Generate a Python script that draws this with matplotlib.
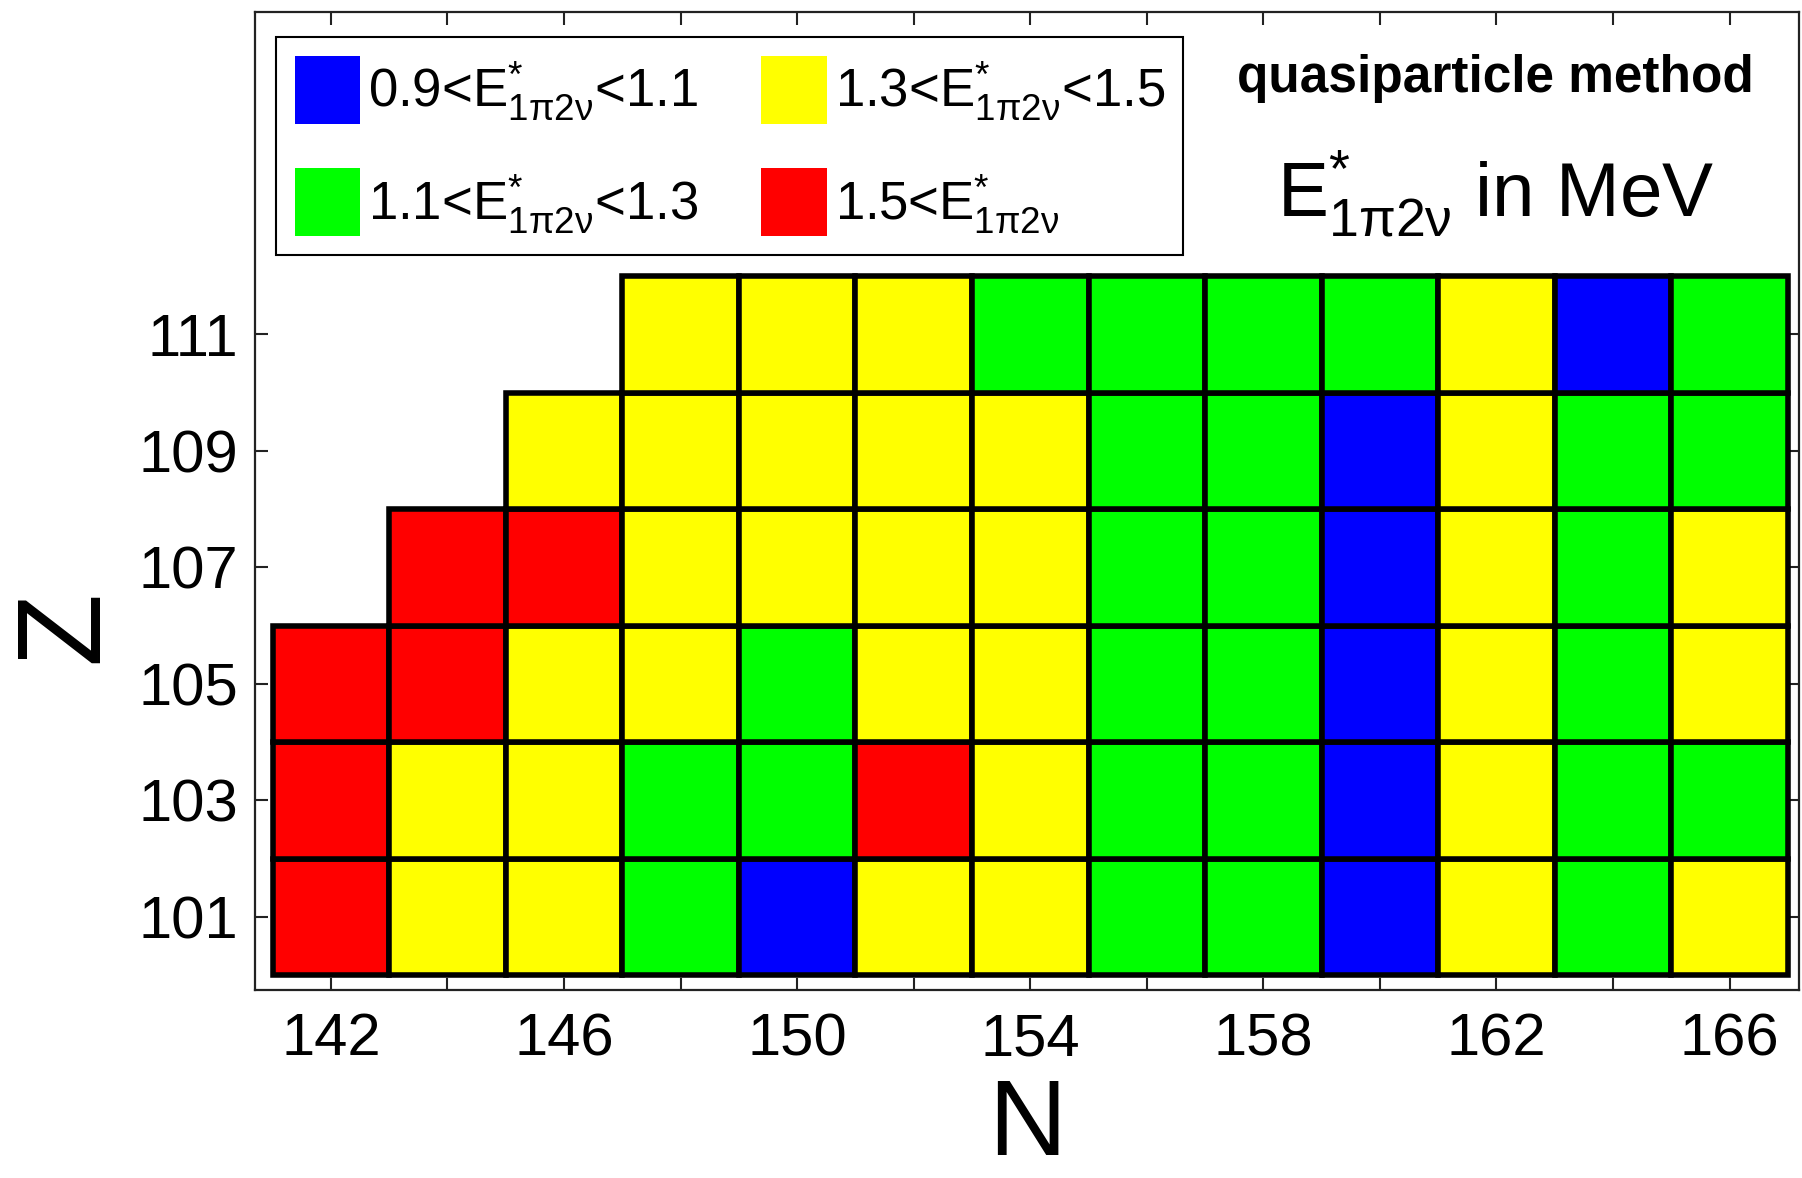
import numpy as np
import matplotlib
matplotlib.use("Agg")
import matplotlib.pyplot as plt
from matplotlib.patches import Patch

plt.rcParams['font.family'] = ['Liberation Sans', 'DejaVu Sans']
plt.rcParams['mathtext.fontset'] = 'custom'
plt.rcParams['mathtext.rm'] = 'Liberation Sans'
plt.rcParams['mathtext.it'] = 'Liberation Sans'
plt.rcParams['mathtext.bf'] = 'Liberation Sans:bold'

# ---- data ----
N_values = [142, 144, 146, 148, 150, 152, 154, 156, 158, 160, 162, 164, 166]
Z_values = [101, 103, 105, 107, 109, 111]
nan = np.nan
E_Z101 = [1.6, 1.4, 1.4, 1.2, 1.0, 1.4, 1.4, 1.2, 1.2, 1.0, 1.4, 1.2, 1.4]
E_Z103 = [1.6, 1.4, 1.4, 1.2, 1.2, 1.6, 1.4, 1.2, 1.2, 1.0, 1.4, 1.2, 1.2]
E_Z105 = [1.6, 1.6, 1.4, 1.4, 1.2, 1.4, 1.4, 1.2, 1.2, 1.0, 1.4, 1.2, 1.4]
E_Z107 = [nan, 1.6, 1.6, 1.4, 1.4, 1.4, 1.4, 1.2, 1.2, 1.0, 1.4, 1.2, 1.4]
E_Z109 = [nan, nan, 1.4, 1.4, 1.4, 1.4, 1.4, 1.2, 1.2, 1.0, 1.4, 1.2, 1.2]
E_Z111 = [nan, nan, nan, 1.4, 1.4, 1.4, 1.2, 1.2, 1.2, 1.2, 1.4, 1.0, 1.2]

bin_edges = [0.9, 1.1, 1.3, 1.5, 10.0]
bin_colors = ['#0000FF', '#00FF00', '#FFFF00', '#FF0000']
bin_labels = [r'0.9<$\mathrm{E}^{*}_{1\pi2\nu}$<1.1',
              r'1.1<$\mathrm{E}^{*}_{1\pi2\nu}$<1.3',
              r'1.3<$\mathrm{E}^{*}_{1\pi2\nu}$<1.5',
              r'1.5<$\mathrm{E}^{*}_{1\pi2\nu}$']

x_major = [142, 146, 150, 154, 158, 162, 166]
x_minor = [144, 148, 152, 156, 160, 164]
y_ticks = [101, 103, 105, 107, 109, 111]

# ---- figure ----
fig = plt.figure(figsize=(18.02, 11.78), dpi=100)
ax = fig.add_axes([0.1416, 0.1594, 0.857, 0.8306])

rows = [E_Z101, E_Z103, E_Z105, E_Z107, E_Z109, E_Z111]
Nc = np.array(N_values, dtype=float)
cell_w = Nc[1] - Nc[0]
cell_h = Z_values[1] - Z_values[0]
for z, row in zip(Z_values, rows):
    vals = np.array(row, dtype=float)
    ok = ~np.isnan(vals)
    idx = np.digitize(vals[ok], bin_edges) - 1
    cols = [bin_colors[i] for i in idx]
    ax.bar(Nc[ok], cell_h, width=cell_w, bottom=z - cell_h / 2, color=cols,
           edgecolor='black', linewidth=4.0, align='center', zorder=2)

ax.set_xlim(140.70, 167.2)
ax.set_ylim(99.74, 116.54)

ax.set_xticks(x_major)
ax.set_xticks(x_minor, minor=True)
ax.set_yticks(y_ticks)
ax.tick_params(axis='both', which='both', direction='in', top=True, right=True,
               length=9, width=1.5, color='#222222')
ax.tick_params(axis='x', which='major', labelsize=43, pad=16)
ax.tick_params(axis='y', which='major', labelsize=43, pad=12)
for sp in ax.spines.values():
    sp.set_linewidth(1.6)
    sp.set_color('#222222')
    sp.set_zorder(3)

ax.set_xlabel('N', fontsize=78)
ax.xaxis.label.set_va('center')
ax.xaxis.set_label_coords(0.5, -0.14)
ax.set_ylabel('Z', fontsize=86)
ax.yaxis.label.set_va('center')
ax.yaxis.set_label_coords(-0.122, 0.372)

# legend: columns (blue, green), (yellow, red)
handles = [Patch(facecolor=c, edgecolor='none') for c in bin_colors]
leg = ax.legend(handles, bin_labels, ncol=2, loc='upper left',
                bbox_to_anchor=(0.0136, 0.974), borderaxespad=0,
                fontsize=38, fancybox=False, edgecolor='black', framealpha=1,
                handlelength=1.24, handleheight=1.6, handletextpad=0.15,
                columnspacing=1.2, labelspacing=0.85, borderpad=0.35)
leg.get_frame().set_linewidth(1.5)

ax.text(0.803, 0.932, 'quasiparticle method', transform=ax.transAxes,
        ha='center', va='center', fontsize=37, fontweight='bold')
ax.text(0.803, 0.791, r'$\mathrm{E}^{*}_{1\pi2\nu}$ in MeV', transform=ax.transAxes,
        ha='center', va='baseline', fontsize=55)

fig.savefig('out.png', dpi=100)
